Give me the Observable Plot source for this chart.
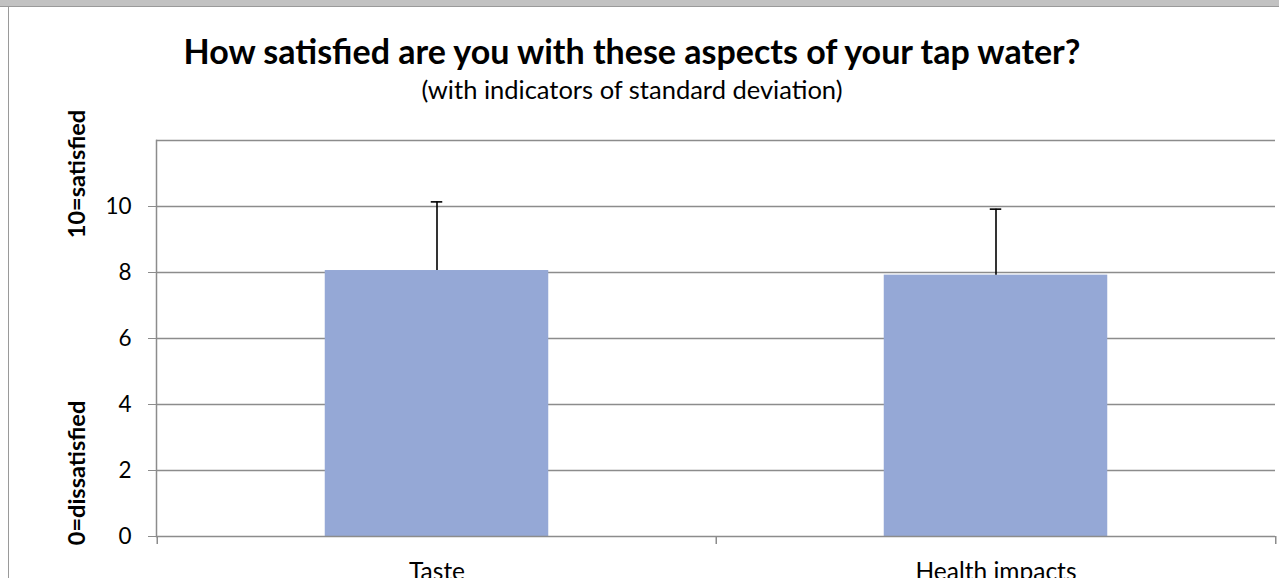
<!DOCTYPE html>
<html>
<head>
<meta charset="utf-8">
<script src="https://cdn.jsdelivr.net/npm/d3@7"></script>
<script src="https://cdn.jsdelivr.net/npm/@observablehq/plot@0.6"></script>
<style>
  html, body { margin: 0; padding: 0; background: #fff; }
  body { width: 1279px; height: 578px; position: relative; overflow: hidden; font-family: Lato, "Open Sans", sans-serif; }
  #chart { position: absolute; left: 0; top: 0; }
  .band { position: absolute; left: 0; top: 0; width: 1279px; height: 6px; background: #c2c2c2; border-bottom: 1px solid #9a9a9a; z-index: 3; }
  .leftline { position: absolute; left: 8px; top: 7px; width: 1px; height: 571px; background: #9a9a9a; z-index: 3; }
  .title { position: absolute; left: 0; width: 1264px; text-align: center; line-height: 1; z-index: 2; color: #000; }
  #t1 { top: 34px; font-size: 34px; font-weight: 700; }
  #t2 { top: 77px; font-size: 25.5px; font-weight: 400; }
  .ylab { position: absolute; font-size: 23.5px; font-weight: 700; line-height: 1; white-space: nowrap; transform: translate(-50%, -50%) rotate(-90deg); z-index: 2; color: #000; }
</style>
</head>
<body>
<div class="band"></div>
<div class="leftline"></div>
<div id="t1" class="title">How satisfied are you with these aspects of your tap water?</div>
<div id="t2" class="title">(with indicators of standard deviation)</div>
<div class="ylab" style="left:77px; top:174px;">10=satisfied</div>
<div class="ylab" style="left:77px; top:473px;">0=dissatisfied</div>
<div id="chart"></div>
<script>
const categories = ["Taste", "Health impacts"];
const means = [8.06, 7.92];
const stdDevs = [2.08, 2.0];
const yTickValues = [0, 2, 4, 6, 8, 10];
const gridValues = [2, 4, 6, 8, 10, 12];

const data = categories.map((c, i) => ({category: c, mean: means[i], sd: stdDevs[i]}));

const W = 1279, H = 578;
const mL = 156, mR = 4, mT = 140, mB = 42;
const bw = (W - mL - mR) / categories.length;
const frameH = H - mT - mB;
const barInset = (bw - 224) / 2;
const capInset = (bw - 12) / 2;
const grey = "#8c8c8c";

const chart = Plot.plot({
  width: W,
  height: H,
  marginLeft: mL,
  marginRight: mR,
  marginTop: mT,
  marginBottom: mB,
  style: {fontFamily: "Lato, 'Open Sans', sans-serif", background: "transparent", color: "#000"},
  x: {type: "band", domain: categories, padding: 0},
  y: {domain: [0, 12]},
  marks: [
    Plot.ruleY(gridValues, {stroke: grey, strokeWidth: 1.5}),
    Plot.barY(data, {x: "category", y: "mean", fill: "#95a8d6", insetLeft: barInset, insetRight: barInset}),
    Plot.ruleX(data, {x: "category", y1: "mean", y2: d => d.mean + d.sd, stroke: "#000", strokeWidth: 1.6}),
    Plot.tickY(data, {x: "category", y: d => d.mean + d.sd, stroke: "#000", strokeWidth: 1.6, insetLeft: capInset, insetRight: capInset}),
    Plot.frame({anchor: "left", stroke: grey, strokeWidth: 1.5}),
    Plot.ruleY([0], {stroke: grey, strokeWidth: 1.5}),
    Plot.ruleX(categories, {x: d => d, dx: -bw / 2, stroke: grey, strokeWidth: 1.5, insetTop: frameH, insetBottom: -8}),
    Plot.ruleX(categories.slice(-1), {x: d => d, dx: bw / 2, stroke: grey, strokeWidth: 1.5, insetTop: frameH, insetBottom: -8}),
    Plot.axisY({ticks: yTickValues, tickSize: 8, tickPadding: 17, fontSize: 22.5, stroke: grey, label: null}),
    Plot.axisX({tickSize: 0, tickPadding: 26, fontSize: 24.5, label: null})
  ]
});
document.getElementById("chart").appendChild(chart);
</script>
</body>
</html>
